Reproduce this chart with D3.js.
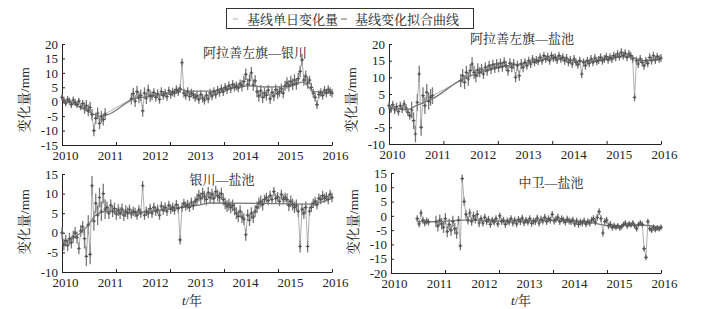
<!DOCTYPE html>
<html>
<head>
<meta charset="utf-8">
<script src="https://cdn.jsdelivr.net/npm/d3@7/dist/d3.min.js"></script>
<style>
  body { margin: 0; background: #fff; }
  svg { display: block; }
  text { font-family: "Liberation Serif", "Noto Serif CJK SC", "Noto Sans CJK SC", serif; fill: #222; }
</style>
</head>
<body>
<script>
// ---- Data: baseline daily change, sampled twice a month (mm) ----
const sampleStep = 1 / 24;
const yearLabels = [2010, 2011, 2012, 2013, 2014, 2015, 2016];

const valsAlxYinchuan = [
  1.5, 0.5, -0.5, 0.8, 0.2, -1.0, 0.6, -0.3, -1.0, 0.2, -1.8, -0.6, -2.2, -1.4, -3.0, -2.0, -4.5, -10.0, -5.8, -4.0, -7.5, -5.2, -6.2, -4.3,
  null, null, null, null, null, null, null, null, null, null, null, null, null, 1.0, 2.8, 0.2, 3.5, 1.5, 2.2, -3.2, 3.0, 1.2, 4.0, 2.0,
  2.0, 3.2, 1.5, 2.8, 0.8, 3.5, 2.2, 3.0, 1.8, 3.8, 2.5, 3.4, 3.0, 4.2, 3.5, 4.5, 13.5, 3.0, 2.2, 3.5, 1.8, 3.0, 2.4, 1.5,
  2.0, 0.8, 2.5, 1.2, 0.5, 2.2, 1.0, 3.0, 2.0, 3.5, 2.5, 4.0, 3.2, 4.5, 3.5, 5.0, 4.2, 5.5, 4.5, 6.0, 5.0, 5.5, 4.8, 6.2,
  5.5, 7.0, 9.5, 6.0, 7.5, 10.0, 5.8, 7.2, 3.5, 2.0, 3.8, 1.5, 3.0, 2.2, 4.0, 1.0, 3.2, 2.0, 4.2, 2.8, 3.5, 4.5, 3.0, 5.5,
  6.5, 5.5, 7.0, 6.0, 7.5, 6.2, 8.0, 10.5, 14.5, 7.5, 8.8, 6.5, 7.5, 5.0, 3.0, 1.5, -1.0, 2.5, 3.2, 2.2, 4.0, 3.0, 4.2, 3.5,
  3.0
];
const valsAlxYanchi = [
  1.5, 0.5, 1.8, 0.2, 1.2, -0.3, 1.5, 0.5, 2.0, 0.8, -0.5, -1.5, 0.2, -3.0, -7.0, 2.5, 11.0, -5.0, 4.5, 1.5, 5.5, 2.8, 4.0, 4.5,
  null, null, null, null, null, null, null, null, null, null, null, null, null, null, 9.0, 10.5, 8.5, 11.5, 9.5, 12.0, 14.0, 11.5, 10.5, 12.2,
  11.5, 12.5, 11.0, 13.0, 12.0, 13.5, 12.5, 13.8, 12.8, 14.0, 13.0, 14.2, 13.2, 14.5, 13.5, 12.0, 14.2, 13.0, 14.0, 10.0, 13.5, 10.5, 14.0, 13.0,
  14.5, 13.5, 15.0, 14.0, 15.5, 14.5, 15.2, 14.8, 16.0, 15.0, 16.5, 15.5, 16.2, 15.0, 16.5, 15.8, 16.0, 15.2, 16.5, 15.5, 16.0, 15.0, 15.8, 14.5,
  15.2, 14.0, 15.5, 14.5, 13.8, 15.0, 11.0, 14.5, 13.5, 15.0, 14.2, 15.5, 14.5, 15.8, 14.8, 15.2, 16.0, 15.0, 15.5, 16.2, 15.3, 16.0, 15.5, 16.5,
  16.0, 17.0, 16.2, 17.5, 16.5, 17.2, 16.0, 17.0, 16.5, 15.5, 4.0, 15.0, 14.0, 15.5, 14.5, 13.5, 15.0, 14.2, 16.0, 15.0, 16.5, 15.2, 16.2, 15.5,
  15.8
];
const valsYinchuanYanchi = [
  0.0, -3.0, -2.0, -3.2, -1.5, -2.5, -1.0, 0.0, -1.2, -4.0, 0.5, 1.5, -1.5, -6.0, 2.0, -5.5, 12.0, 3.0, 7.5, 4.5, 9.0, 5.5, 10.0, 6.0,
  6.5, 5.0, 7.0, 5.5, 6.2, 4.8, 5.8, 5.0, 6.0, 4.5, 5.5, 5.0, 6.0, 4.8, 5.5, 5.2, 4.5, 5.8, 5.0, 12.0, 4.5, 5.5, 5.0, 6.2,
  5.0, 6.5, 5.5, 6.0, 4.5, 6.8, 5.8, 6.5, 5.5, 7.0, 6.0, 6.5, 5.8, 7.2, 6.2, -1.8, 6.5, 7.5, 6.8, 7.2, 6.5, 7.8, 7.0, 8.0,
  8.5, 9.5, 8.8, 10.0, 9.2, 8.5, 10.2, 9.0, 9.8, 8.8, 10.5, 9.5, 9.0, 10.0, 8.5, 7.5, 6.8, 7.2, 6.5, 7.0, 6.0, 5.0, 4.2, 5.5,
  4.0, 3.5, -0.5, 4.5, 3.2, 5.0, 4.0, 5.5, 6.5, 7.5, 8.0, 7.2, 8.5, 9.0, 8.2, 9.5, 8.5, 10.5, 8.8, 9.2, 8.0, 9.8, 8.5, 9.0,
  8.5, 7.0, 8.0, 7.2, 6.5, 7.0, 5.5, -3.5, 6.0, 5.0, 6.5, -3.5, 5.5, 6.5, 7.5, 8.0, 7.2, 8.8, 8.5, 9.5, 8.8, 9.2, 8.5, 9.8,
  9.0
];
const valsZhongweiYanchi = [
  null, null, null, null, null, null, null, null, null, null, null, null, null, null, -1.0, -2.8, 1.0, -1.5, -2.5, -1.8, -2.2, null, null, null,
  -2.0, -3.5, -1.5, -2.8, -4.0, -1.0, -5.5, -3.0, -5.0, -2.0, -4.5, -6.0, -1.5, -10.5, 13.0, 5.0, 0.5, -1.5, 1.0, -2.0, 0.0, -1.2, 0.5, -2.5,
  -1.0, -2.5, -0.5, -2.0, -1.2, -3.0, -1.5, -2.2, -1.0, -2.8, 0.0, -2.0, -1.5, -3.0, -1.8, -2.2, -1.0, -2.5, -1.5, -2.8, -1.2, -2.0, -0.8, -2.4,
  -1.5, -2.2, -1.0, -2.6, -1.8, -2.0, -0.8, -2.5, -1.2, -1.8, -0.5, -2.0, -1.0, -1.5, 0.5, -1.8, -1.2, -0.5, -2.0, -1.0, -1.5, -2.2, -1.2, -1.8,
  -2.0, -1.5, -2.8, -1.8, -3.0, -2.2, -2.5, -1.8, -2.8, -2.0, -2.5, -1.5, -1.0, -2.2, -0.5, 1.5, -1.0, -6.0, -2.0, -1.5, -3.5, -3.0, -4.0, -3.5,
  -4.0, -3.5, -4.2, -3.8, -3.0, -2.5, -3.5, -2.8, -3.2, -2.5, -3.5, -4.5, -3.0, -2.5, -3.0, -11.5, -14.5, -2.0, -4.5, -5.0, -4.0, -4.8, -4.2, -4.5,
  -4.0
];

// ---- Day-to-day scatter half-width per half year (mm), 2010H1 .. 2015H2 ----
const spreadAlxYinchuan = [1.2, 2.0, 0, 2.0, 1.5, 1.5, 1.5, 1.5, 2.0, 1.8, 2.0, 1.5];
const spreadAlxYanchi = [1.2, 2.5, 0, 2.0, 1.5, 1.5, 1.2, 1.2, 1.2, 1.2, 1.2, 1.2];
const spreadYinchuanYanchi = [1.5, 2.5, 1.5, 1.2, 1.2, 1.2, 1.5, 1.5, 1.5, 1.2, 1.5, 1.2];
const spreadZhongweiYanchi = [0, 1.2, 2.0, 1.5, 1.2, 1.2, 1.2, 1.2, 1.2, 1.2, 1.0, 1.0];

// ---- Fitted curves: [year, mm] ----
const fitAlxYinchuan = [[2010, 0.5], [2010.3, -1], [2010.6, -3.5], [2010.85, -5], [2011.0, -4.6], [2011.6, 1.0], [2012.0, 2.0], [2012.5, 3.5], [2012.65, 4.2], [2012.8, 3.7], [2013.3, 3.7], [2013.8, 4.8], [2014.2, 5.5], [2014.5, 5.1], [2015.0, 5.2], [2015.35, 6.8], [2015.6, 3.5], [2016, 3.3]];
const fitAlxYanchi = [[2010, 1.0], [2010.4, 0.3], [2010.6, 1.5], [2010.95, 3.5], [2011.6, 9.3], [2012.0, 11.5], [2012.5, 13.2], [2013.0, 14.2], [2013.5, 15.5], [2013.8, 15.7], [2014.2, 14.8], [2014.6, 15.0], [2015.0, 16.0], [2015.3, 16.2], [2015.6, 15.0], [2016, 15.5]];
const fitYinchuanYanchi = [[2010, -2.5], [2010.3, -1.0], [2010.55, 1.5], [2010.75, 4.5], [2011.0, 5.5], [2011.5, 5.2], [2012.0, 5.5], [2012.5, 6.3], [2013.0, 7.0], [2013.3, 7.6], [2014.5, 7.5], [2015.0, 7.4], [2015.5, 7.3], [2016, 8.8]];
const fitZhongweiYanchi = [[2010.6, -2.0], [2011.0, -2.0], [2011.6, -1.5], [2012.5, -1.8], [2013.5, -1.5], [2014.3, -2.0], [2014.9, -3.5], [2015.5, -3.2], [2016, -4.0]];

const titles = ["阿拉善左旗—银川", "阿拉善左旗—盐池", "银川—盐池", "中卫—盐池"];
const legendLabels = ["基线单日变化量", "基线变化拟合曲线"];

// ---- Panel layout ----
const panels = [
  { vals: valsAlxYinchuan, spread: spreadAlxYinchuan, fit: fitAlxYinchuan, title: titles[0], x0: 62, x1: 332, yTop: 44, yBot: 145, yDom: [-15, 20], tx: 255, ty: 57, labY: 100 },
  { vals: valsAlxYanchi, spread: spreadAlxYanchi, fit: fitAlxYanchi, title: titles[1], x0: 389, x1: 661, yTop: 44, yBot: 144, yDom: [-10, 20], tx: 522, ty: 43, labY: 100 },
  { vals: valsYinchuanYanchi, spread: spreadYinchuanYanchi, fit: fitYinchuanYanchi, title: titles[2], x0: 62, x1: 332, yTop: 174, yBot: 272, yDom: [-10, 15], tx: 222, ty: 184, labY: 222, xTitle: true },
  { vals: valsZhongweiYanchi, spread: spreadZhongweiYanchi, fit: fitZhongweiYanchi, title: titles[3], x0: 391, x1: 661, yTop: 173, yBot: 273, yDom: [-20, 15], tx: 551, ty: 187, labY: 222, xTitle: true }
];

const svg = d3.select("body").append("svg")
  .attr("width", 715)
  .attr("height", 309);

panels.forEach(p => {
  const x = d3.scaleLinear().domain([2010, 2016]).range([p.x0, p.x1]);
  const y = d3.scaleLinear().domain(p.yDom).range([p.yBot, p.yTop]);
  const g = svg.append("g");

  // ---- Axes ----
  const xAx = g.append("g")
    .attr("transform", `translate(0,${p.yBot})`)
    .call(d3.axisBottom(x).tickValues(yearLabels).tickFormat(d3.format("d")).tickSize(0).tickPadding(6));
  xAx.selectAll("text").attr("font-size", 13).attr("dx", 3);

  g.append("g")
    .attr("transform", `translate(0,${p.yBot})`)
    .call(d3.axisTop(x).tickValues(d3.range(6).map(k => 2010 + k * 1.2)).tickSize(3).tickFormat(""))
    .call(a => a.select(".domain").remove());

  const yAx = g.append("g")
    .attr("transform", `translate(${p.x0},0)`)
    .call(d3.axisLeft(y).ticks((p.yDom[1] - p.yDom[0]) / 5).tickSize(0).tickPadding(4).tickFormat(d => d < 0 ? "-" + Math.abs(d) : d));
  yAx.selectAll("text").attr("font-size", 13);

  g.append("g")
    .attr("transform", `translate(${p.x0},0)`)
    .call(d3.axisRight(y).ticks((p.yDom[1] - p.yDom[0]) / 5).tickSize(3).tickFormat(""))
    .call(a => a.select(".domain").remove());

  g.selectAll(".domain, .tick line").attr("stroke", "#222");

  // ---- Daily values ----
  const pts = p.vals
    .map((v, i) => ({ t: 2010 + i * sampleStep, v, s: p.spread[Math.min(11, Math.floor(i / 12))] }))
    .filter(d => d.v !== null);

  // scatter whiskers
  g.selectAll(".wh")
    .data(pts)
    .join("line")
    .attr("class", "wh")
    .attr("x1", d => x(d.t)).attr("x2", d => x(d.t))
    .attr("y1", d => y(d.v - d.s)).attr("y2", d => y(d.v + d.s))
    .attr("stroke", "#777")
    .attr("stroke-width", 1.3);

  g.append("path")
    .datum(pts)
    .attr("fill", "none")
    .attr("stroke", "#9a9a9a")
    .attr("stroke-width", 0.8)
    .attr("d", d3.line().x(d => x(d.t)).y(d => y(d.v)));

  g.append("path")
    .datum(p.fit)
    .attr("fill", "none")
    .attr("stroke", "#7a7a7a")
    .attr("stroke-width", 1.3)
    .attr("d", d3.line().x(d => x(d[0])).y(d => y(d[1])).curve(d3.curveMonotoneX));

  g.selectAll(".pt")
    .data(pts)
    .join("path")
    .attr("class", "pt")
    .attr("transform", d => `translate(${x(d.t)},${y(d.v)})`)
    .attr("d", d3.symbol(d3.symbolCross).size(7))
    .attr("fill", "#555");

  // ---- Titles ----
  g.append("text")
    .attr("x", p.tx).attr("y", p.ty)
    .attr("text-anchor", "middle")
    .attr("font-size", 13)
    .text(p.title);

  g.append("text")
    .attr("transform", `translate(${p.x0 - 33},${p.labY}) rotate(-90)`)
    .attr("text-anchor", "middle")
    .attr("font-size", 13.5)
    .text("变化量/mm");

  if (p.xTitle) {
    const xt = g.append("text")
      .attr("x", (p.x0 + p.x1) / 2 - 5).attr("y", 305)
      .attr("text-anchor", "middle")
      .attr("font-size", 13);
    xt.append("tspan").attr("font-style", "italic").text("t");
    xt.append("tspan").text("/年");
  }
});

// ---- Legend ----
const legend = svg.append("g");
legend.append("rect")
  .attr("x", 226.5).attr("y", 8.5)
  .attr("width", 247).attr("height", 20)
  .attr("fill", "#fff")
  .attr("stroke", "#333");

legend.append("line")
  .attr("x1", 233).attr("x2", 238).attr("y1", 19).attr("y2", 19)
  .attr("stroke", "#aaa");
legend.append("text")
  .attr("x", 247).attr("y", 23.5)
  .attr("font-size", 13)
  .text(legendLabels[0]);

legend.append("line")
  .attr("x1", 341).attr("x2", 347).attr("y1", 19).attr("y2", 19)
  .attr("stroke", "#666");
legend.append("text")
  .attr("x", 355).attr("y", 23.5)
  .attr("font-size", 13)
  .text(legendLabels[1]);
</script>
</body>
</html>
